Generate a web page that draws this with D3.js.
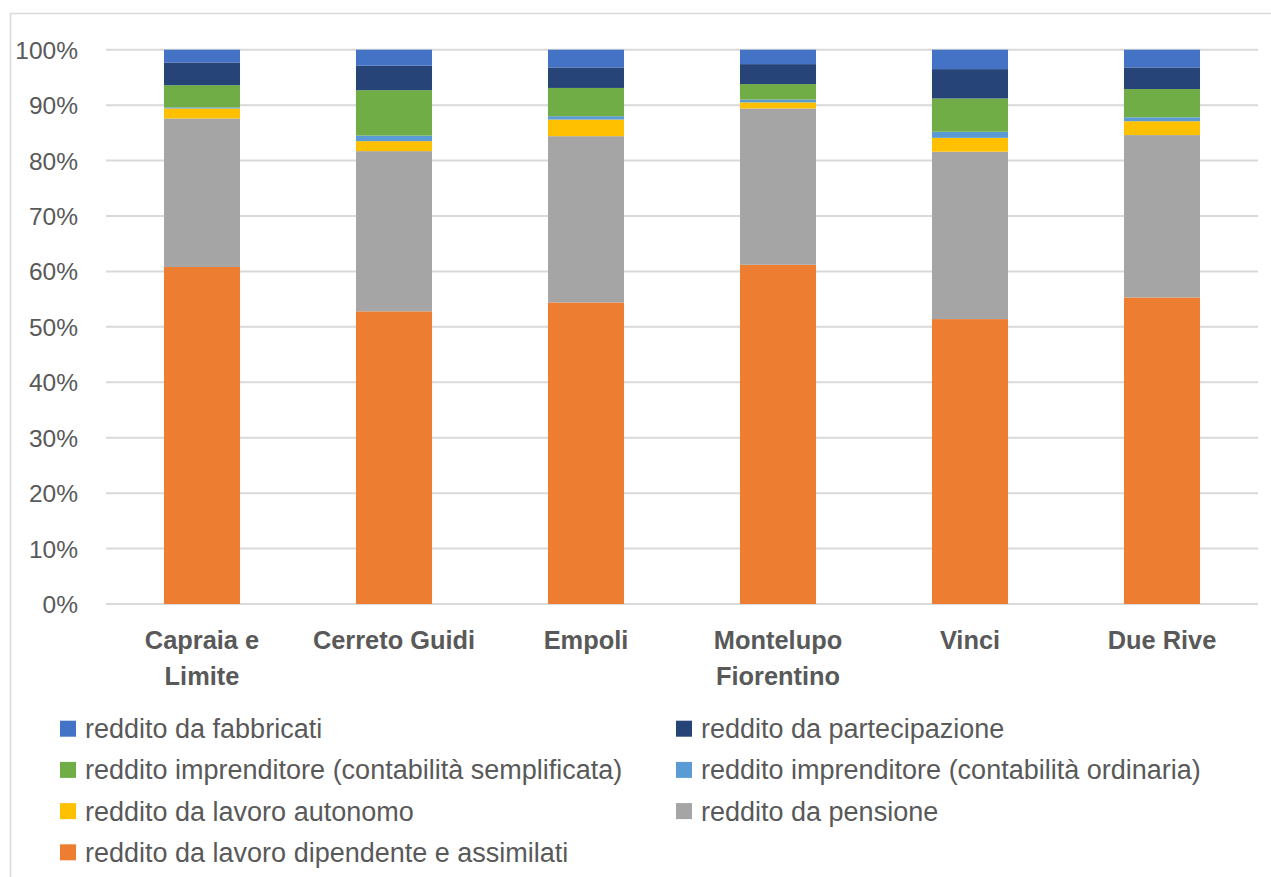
<!DOCTYPE html>
<html>
<head>
<meta charset="utf-8">
<script src="https://cdn.jsdelivr.net/npm/d3@7"></script>
<style>
  html, body { margin: 0; padding: 0; background: #ffffff; }
  svg { display: block; }
  text { font-family: "Liberation Sans", Arial, sans-serif; fill: #595959; }
</style>
</head>
<body>
<svg id="chart" width="1271" height="877"></svg>
<script>
// Comuni (category labels, wrapped as in the axis)
const categories = ["Capraia e Limite", "Cerreto Guidi", "Empoli", "Montelupo Fiorentino", "Vinci", "Due Rive"];
const categoryLines = [["Capraia e", "Limite"], ["Cerreto Guidi"], ["Empoli"], ["Montelupo", "Fiorentino"], ["Vinci"], ["Due Rive"]];

// Composizione del reddito (% per comune), one array per tipologia
const dipendente     = [60.8, 52.8, 54.4, 61.2, 51.4, 55.3];
const pensione       = [26.8, 28.9, 30.0, 28.2, 30.2, 29.3];
const autonomo       = [1.8, 1.8, 3.0, 1.1, 2.5, 2.5];
const ordinaria      = [0.2, 1.0, 0.6, 0.5, 1.1, 0.7];
const semplificata   = [4.0, 8.2, 5.1, 2.8, 6.0, 5.1];
const partecipazione = [4.1, 4.4, 3.7, 3.6, 5.3, 3.9];
const fabbricati     = [2.3, 2.9, 3.2, 2.6, 3.5, 3.2];

const yTicks = [0, 0.1, 0.2, 0.3, 0.4, 0.5, 0.6, 0.7, 0.8, 0.9, 1.0];

// Stacking order, bottom to top
const series = [
  { key: "dipendente",     name: "reddito da lavoro dipendente e assimilati",        values: dipendente,     color: "#ED7D31" },
  { key: "pensione",       name: "reddito da pensione",                              values: pensione,       color: "#A5A5A5" },
  { key: "autonomo",       name: "reddito da lavoro autonomo",                       values: autonomo,       color: "#FFC000" },
  { key: "ordinaria",      name: "reddito imprenditore (contabilità ordinaria)",     values: ordinaria,      color: "#5B9BD5" },
  { key: "semplificata",   name: "reddito imprenditore (contabilità semplificata)",  values: semplificata,   color: "#70AD47" },
  { key: "partecipazione", name: "reddito da partecipazione",                        values: partecipazione, color: "#264478" },
  { key: "fabbricati",     name: "reddito da fabbricati",                            values: fabbricati,     color: "#4472C4" }
];

const rows = categories.map((c, i) => {
  const r = { category: c };
  series.forEach(s => { r[s.key] = s.values[i]; });
  return r;
});

const stacked = d3.stack()
  .keys(series.map(s => s.key))
  .offset(d3.stackOffsetExpand)(rows);

const svg = d3.select("#chart");

// chart area frame
svg.append("rect")
  .attr("x", 10.5).attr("y", 13.5)
  .attr("width", 1300).attr("height", 900)
  .attr("fill", "#ffffff")
  .attr("stroke", "#D9D9D9").attr("stroke-width", 1.5);

const plot = { left: 106, right: 1258, top: 49.7, bottom: 604 };

const x = d3.scaleBand()
  .domain(categories)
  .range([plot.left, plot.right])
  .paddingInner(0.604)
  .paddingOuter(0.302);

const y = d3.scaleLinear()
  .domain([0, 1])
  .range([plot.bottom, plot.top]);

// gridlines
svg.append("g")
  .selectAll("line")
  .data(yTicks)
  .join("line")
  .attr("x1", plot.left).attr("x2", plot.right)
  .attr("y1", d => y(d)).attr("y2", d => y(d))
  .attr("stroke", "#D9D9D9").attr("stroke-width", 2);

// y axis
const yAxis = d3.axisLeft(y)
  .tickValues(yTicks)
  .tickFormat(d3.format(".0%"))
  .tickSize(0)
  .tickPadding(0);

svg.append("g")
  .attr("transform", "translate(78,0)")
  .call(yAxis)
  .call(g => g.select(".domain").remove())
  .call(g => g.selectAll("text")
    .attr("font-family", "Liberation Sans, Arial, sans-serif")
    .attr("font-size", 24.5)
    .attr("fill", "#595959")
    .attr("dy", "0.35em"));

// stacked bars
svg.append("g")
  .selectAll("g")
  .data(stacked)
  .join("g")
  .attr("fill", (d, i) => series[i].color)
  .selectAll("rect")
  .data(d => d)
  .join("rect")
  .attr("x", d => x(d.data.category))
  .attr("width", x.bandwidth())
  .attr("y", d => y(d[1]))
  .attr("height", d => y(d[0]) - y(d[1]));

// x axis
const xAxis = d3.axisBottom(x).tickSize(0).tickFormat("");
const gx = svg.append("g")
  .attr("transform", `translate(0,${plot.bottom})`)
  .call(xAxis);
gx.select(".domain").remove();
gx.selectAll(".tick").each(function(d, i) {
  const t = d3.select(this).append("text")
    .attr("text-anchor", "middle")
    .attr("font-family", "Liberation Sans, Arial, sans-serif")
    .attr("font-weight", "bold")
    .attr("font-size", 25.4)
    .attr("fill", "#595959");
  categoryLines[i].forEach((line, j) => {
    t.append("tspan")
      .attr("x", 0)
      .attr("y", 36 + j * 36)
      .attr("dy", "0.35em")
      .text(line);
  });
});

// legend (row-wise, two columns, reverse stacking order)
const legendItems = series.slice().reverse();
const legendCols = [60, 676];
const legendRowY = 728.7;
const legendRowStep = 41.2;

const lg = svg.append("g")
  .selectAll("g")
  .data(legendItems)
  .join("g")
  .attr("transform", (d, i) =>
    `translate(${legendCols[i % 2]},${legendRowY + Math.floor(i / 2) * legendRowStep})`);

lg.append("rect")
  .attr("x", 0).attr("y", -8)
  .attr("width", 16).attr("height", 16)
  .attr("fill", d => d.color);

lg.append("text")
  .attr("x", 25)
  .attr("dy", "0.35em")
  .attr("font-size", 27)
  .attr("fill", "#595959")
  .text(d => d.name);
</script>
</body>
</html>
